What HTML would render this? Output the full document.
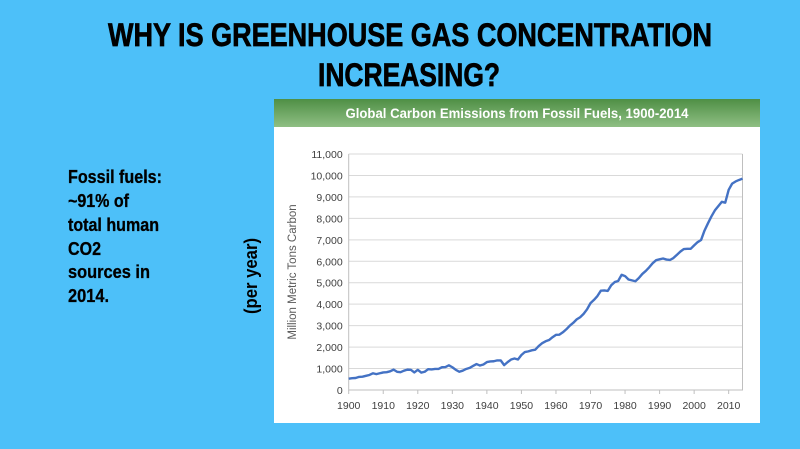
<!DOCTYPE html>
<html><head><meta charset="utf-8"><style>
html,body{margin:0;padding:0;background:#4dc0f9;}
svg{display:block;font-family:"Liberation Sans",Arial,sans-serif;}
</style></head><body>
<svg id="s" width="800" height="449" viewBox="0 0 800 449">
<defs><linearGradient id="g" x1="0" y1="0" x2="0" y2="1"><stop offset="0" stop-color="#4f8f45"/><stop offset="1" stop-color="#8fbf84"/></linearGradient></defs>
<rect width="800" height="449" fill="#4dc0f9"/>
<g font-weight="bold" font-size="32" fill="#000" stroke="#000" stroke-width="0.7" text-anchor="middle">
<text x="410" y="46" textLength="604" lengthAdjust="spacingAndGlyphs">WHY IS GREENHOUSE GAS CONCENTRATION</text>
<text x="409" y="86" textLength="182" lengthAdjust="spacingAndGlyphs">INCREASING?</text>
</g>
<g font-weight="bold" font-size="18" fill="#000" stroke="#000" stroke-width="0.3">
<text x="68" y="183" textLength="94" lengthAdjust="spacingAndGlyphs">Fossil fuels:</text>
<text x="68" y="207" textLength="61" lengthAdjust="spacingAndGlyphs">~91% of</text>
<text x="68" y="231" textLength="91" lengthAdjust="spacingAndGlyphs">total human</text>
<text x="68" y="255" textLength="33" lengthAdjust="spacingAndGlyphs">CO2</text>
<text x="68" y="278" textLength="82" lengthAdjust="spacingAndGlyphs">sources in</text>
<text x="68" y="302" textLength="41" lengthAdjust="spacingAndGlyphs">2014.</text>
</g>
<text transform="translate(257,276) rotate(-90)" text-anchor="middle" font-weight="bold" font-size="18" textLength="76" lengthAdjust="spacingAndGlyphs">(per year)</text>
<rect x="274" y="99" width="486" height="324" fill="#fff"/>
<rect x="274" y="99" width="486" height="28" fill="url(#g)"/>
<text x="517" y="118" text-anchor="middle" fill="#fff" font-weight="bold" font-size="13.5" textLength="343" lengthAdjust="spacingAndGlyphs">Global Carbon Emissions from Fossil Fuels, 1900-2014</text>
<text transform="translate(296,272) rotate(-90)" text-anchor="middle" fill="#595959" font-size="11.5">Million Metric Tons Carbon</text>
<g id="grid"></g><g id="axes"></g><g id="plot"></g>
</svg>
<script>
const yTicks=[0,1000,2000,3000,4000,5000,6000,7000,8000,9000,10000,11000];
const yTickLabels=["0","1,000","2,000","3,000","4,000","5,000","6,000","7,000","8,000","9,000","10,000","11,000"];
const xTicks=[1900,1910,1920,1930,1940,1950,1960,1970,1980,1990,2000,2010];
const startYear=1900;
const emissions=[530,550,560,610,620,660,700,780,740,780,820,830,870,950,850,830,900,950,940,820,940,810,850,970,960,980,980,1060,1070,1150,1060,940,850,900,980,1030,1120,1210,1140,1190,1300,1330,1340,1380,1380,1160,1300,1420,1470,1420,1630,1770,1800,1850,1880,2050,2180,2270,2330,2460,2570,2580,2690,2830,3000,3130,3290,3390,3550,3760,4050,4200,4380,4630,4640,4620,4880,5030,5080,5370,5310,5150,5110,5070,5220,5410,5550,5720,5910,6050,6090,6130,6080,6060,6150,6300,6450,6570,6580,6580,6740,6890,6990,7430,7770,8090,8370,8570,8770,8730,9330,9620,9720,9790,9850];
const NS="http://www.w3.org/2000/svg";
const X0=348.7,X1=742.5,Y0=390,Y1=154;
const xs=y=>X0+(y-1900)/(2014-1900)*(X1-X0);
const ys=v=>Y0-v/11000*(Y0-Y1);
function mk(t,a,p){const e=document.createElementNS(NS,t);for(const k in a)e.setAttribute(k,a[k]);p.appendChild(e);return e;}
const grid=document.getElementById('grid'),axes=document.getElementById('axes'),plot=document.getElementById('plot');
yTicks.forEach((v,i)=>{
  if(v>0){const l=mk('line',{x1:X0,x2:X1,y1:ys(v),y2:ys(v),stroke:'#d9d9d9','stroke-width':1},grid);
  
  }
  const t=mk('text',{x:X0-6,y:ys(v)+4,'text-anchor':'end','font-size':'10.5',fill:'#404040'},axes);
  t.textContent=yTickLabels[i];
  
  
});
const ax=mk('path',{d:`M${X0} ${Y1}V${Y0}H${X1}V${Y1}`,fill:'none',stroke:'#bfbfbf','stroke-width':1},axes);


xTicks.forEach(y=>{
  const tk=mk('line',{x1:xs(y),x2:xs(y),y1:Y0,y2:Y0+4,stroke:'#bfbfbf'},axes);
  
  
  const t=mk('text',{x:xs(y),y:Y0+19,'text-anchor':'middle','font-size':'10.5',fill:'#404040'},axes);
  t.textContent=y;
  
  
});
const d=emissions.map((v,i)=>(i?'L':'M')+xs(startYear+i).toFixed(2)+' '+ys(v).toFixed(2)).join('');
const line=mk('path',{d:d,fill:'none',stroke:'#4472c4','stroke-width':2.4,'stroke-linejoin':'round'},plot);


</script>
</body></html>
